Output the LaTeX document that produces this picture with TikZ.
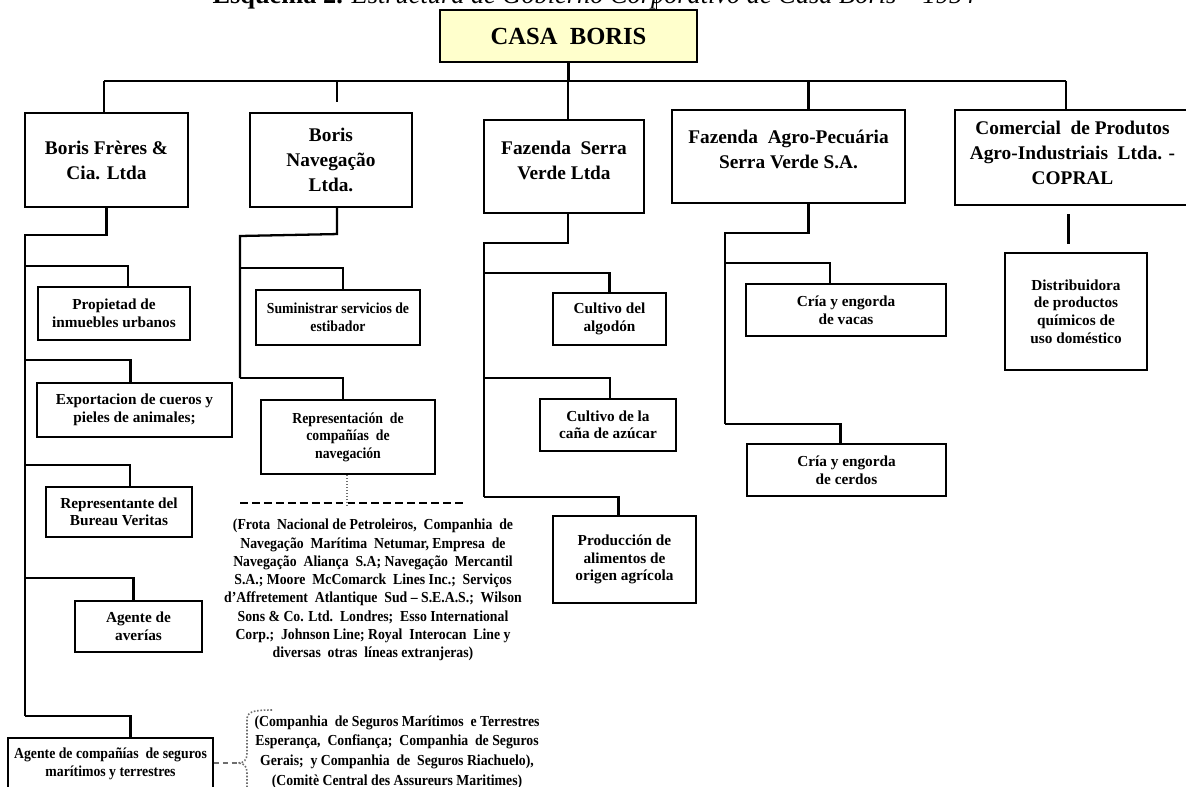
\documentclass[tikz,border=0pt]{standalone}
\usepackage{fontspec}
\setmainfont{Liberation Serif}
\newfontfamily\condfont[FakeStretch=0.9,Ligatures=TeX]{Liberation Serif}
\usetikzlibrary{positioning,calc}
\definecolor{CasaYellow}{RGB}{255,255,204}
\definecolor{BraceGray}{RGB}{110,110,110}

\begin{document}
\begin{tikzpicture}[x=0.02cm,y=-0.02cm,
  every node/.style={align=center, inner sep=0pt},
  box/.style 2 args={draw, line width=1.2pt, minimum width=#1*0.02cm, minimum height=#2*0.02cm},
  lvl/.style={font=\bfseries\fontsize{11}{14.2}\selectfont},
  sub/.style={font=\bfseries\fontsize{8.7}{10}\selectfont},
  subc/.style={font=\condfont\bfseries\fontsize{8.7}{10}\selectfont},
  link/.style={line width=1.3pt}]
  \useasboundingbox (0,0) rectangle (1186,787);
  \clip (0,0) rectangle (1186,787);

  % title, only its lower part shows
  \node[anchor=base, font=\fontsize{15}{18}\selectfont] (title) at (594,3.5)
    {\textbf{Esquema 2.} \textit{Estructura de Gobierno Corporativo de Casa Boris – 1954}};

  % top
  \node[box={257}{52}, fill=CasaYellow, font=\bfseries\fontsize{14}{16}\selectfont] (casa) at (568.5,36) {CASA\ \ BORIS};
  \draw[line width=1pt] ($(casa.north)+(88,0)$) -- ++(0,-12);

  % companies
  \node[box={163}{94}, lvl] (frer) at (106.5,160) {Boris Frères \&\\Cia. Ltda};
  \node[box={162}{94}, lvl] (nav) at (331,160) {Boris\\Navegação\\Ltda.};
  \node[box={160}{93}, lvl] (fsv) at (564,166.5) {Fazenda\ \ Serra\\Verde Ltda\\[-7.4pt]};
  \node[box={233}{93}, lvl] (agro) at (788.5,156.5) {Fazenda\ \ Agro-Pecuária\\Serra Verde S.A.\\[-6.2pt]};
  \node[box={235}{95}, lvl] (copral) at (1072.5,157.5) {Comercial\ \ de Produtos\\Agro-Industriais\ \ Ltda. -\\COPRAL\\[-9.2pt]};

  \coordinate (busL) at (104,81);
  \coordinate (busR) at (1066,81);
  \draw[link, line width=1.6pt] (busL) -- (busR);
  \draw[link] (casa.south) -- (casa.south |- busL);
  \draw[link] (busL) -- (busL |- frer.north);
  \draw[link] ($(nav.north |- busL)+(6,0)$) -- ($(nav.north)+(6,-10)$);
  \draw[link] ($(fsv.north |- busL)+(4,0)$) -- ($(fsv.north)+(4,0)$);
  \draw[link] ($(agro.north |- busL)+(20,0)$) -- ($(agro.north)+(20,0)$);
  \draw[link] (busR) -- (busR |- copral.north);

  % Boris Freres & Cia.
  \node[box={152}{53}, sub] (prop) at (114,313.5) {Propietad de\\inmuebles urbanos};
  \node[box={195}{54}, sub] (expo) at (134.5,410) {Exportacion de cueros y\\pieles de animales;};
  \node[box={146}{50}, sub] (bure) at (119,512) {Representante del\\Bureau Veritas};
  \node[box={127}{51}, sub] (aver) at (138.5,626.5) {Agente de\\averías};
  \node[box={205}{54}, subc] (seg) at (110.5,765) {Agente de compañías\ \ de seguros\\marítimos y terrestres\\[-6.6pt]};

  \coordinate (frerT) at (25,235);
  \coordinate (f1) at (25,266);
  \coordinate (f2) at (25,360);
  \coordinate (f3) at (25,465);
  \coordinate (f4) at (25,578);
  \coordinate (f5) at (25,716);
  \draw[link] (frer.south) |- (frerT) -- (f5);
  \draw[link] (f1) -| ($(prop.north)+(14,0)$);
  \draw[link] (f2) -| ($(expo.north)+(-4,0)$);
  \draw[link] (f3) -| ($(bure.north)+(11,0)$);
  \draw[link] (f4) -| ($(aver.north)+(-5,0)$);
  \draw[link] (f5) -| ($(seg.north)+(20,0)$);

  \node[font=\condfont\bfseries\fontsize{8.7}{11.2}\selectfont] (seglist) at (397,752)
    {(Companhia\ \ de Seguros Marítimos\ \ e Terrestres\\
     Esperança,\ \ Confiança;\ \ Companhia\ \ de Seguros\\
     Gerais;\ \ y Companhia\ \ de\ \ Seguros Riachuelo),\\
     (Comitè Central des Assureurs Maritimes)};
  \coordinate (brtip) at (238,763);
  \draw[BraceGray, densely dashed, line width=0.7pt] (seg.east |- brtip) -- (brtip);
  \draw[BraceGray, densely dotted, line width=0.9pt] (272,710) .. controls (252,710) and (247,712) .. (247,720)
    -- (247,753) .. controls (247,760) and (244,763) .. (brtip)
    .. controls (244,763) and (247,766) .. (247,773) -- (247,790);

  % Boris Navegacao
  \node[box={164}{55}, subc] (sumi) at (338,317.5) {Suministrar servicios de\\estibador};
  \node[box={174}{74}, subc] (repr) at (348,437) {Representación\ \ de\\compañías\ \ de\\navegación};

  \coordinate (navT) at (240,236);
  \coordinate (n1) at (240,268);
  \coordinate (n2) at (240,378);
  \draw[link] ($(nav.south)+(6,0)$) -- ++(0,26) -- (navT) -- (n2);
  \draw[link] (n1) -| ($(sumi.north)+(5,0)$);
  \draw[link] (n2) -| ($(repr.north)+(-5,0)$);

  \coordinate (dashL) at (240,503);
  \coordinate (dashR) at (465,503);
  \draw[line width=1.2pt, dash pattern=on 4.5pt off 2.3pt] (dashL) -- (dashR);
  \draw[BraceGray, densely dotted, line width=0.7pt] ($(repr.south)+(-1,0)$) -- ($(repr.south |- dashR)+(-1,4)$);
  \node[font=\condfont\bfseries\fontsize{8.7}{10.4}\selectfont] (navlist) at (373,590)
    {(Frota\ \ Nacional de Petroleiros,\ \ Companhia\ \ de\\
     Navegação\ \ Marítima\ \ Netumar, Empresa\ \ de\\
     Navegação\ \ Aliança\ \ S.A; Navegação\ \ Mercantil\\
     S.A.; Moore\ \ McComarck\ \ Lines Inc.;\ \ Serviços\\
     d’Affretement\ \ Atlantique\ \ Sud – S.E.A.S.;\ \ Wilson\\
     Sons \& Co. Ltd.\ \ Londres;\ \ Esso International\\
     Corp.;\ \ Johnson Line; Royal\ \ Interocan\ \ Line y\\
     diversas\ \ otras\ \ líneas extranjeras)};

  % Fazenda Serra Verde
  \node[box={113}{52}, sub] (algo) at (609.5,319) {Cultivo del\\algodón};
  \node[box={136}{52}, sub] (cana) at (608,425) {Cultivo de la\\caña de azúcar};
  \node[box={143}{87}, sub] (prod) at (624.5,559.5) {Producción de\\alimentos de\\origen agrícola};

  \coordinate (fsvT) at (484,243);
  \coordinate (s1) at (484,273);
  \coordinate (s2) at (484,378);
  \coordinate (s3) at (484,497);
  \draw[link] ($(fsv.south)+(4,0)$) |- (fsvT) -- (s3);
  \draw[link] (s1) -| (algo.north);
  \draw[link] (s2) -| ($(cana.north)+(2,0)$);
  \draw[link] (s3) -| ($(prod.north)+(-6,0)$);

  % Fazenda Agro-Pecuaria
  \node[box={200}{52}, sub] (vaca) at (846,310) {Cría y engorda\\de vacas};
  \node[box={199}{52}, sub] (cerd) at (846.5,470) {Cría y engorda\\de cerdos};

  \coordinate (agT) at (725,233);
  \coordinate (a1) at (725,263);
  \coordinate (a2) at (725,424);
  \draw[link] ($(agro.south)+(20,0)$) |- (agT) -- (a2);
  \draw[link] (a1) -| ($(vaca.north)+(-16,0)$);
  \draw[link] (a2) -| ($(cerd.north)+(-6,0)$);

  % COPRAL
  \node[box={142}{117}, sub] (dist) at (1076,311.5) {Distribuidora\\de productos\\químicos de\\uso doméstico};
  \draw[link] ($(copral.south)+(-4,8)$) -- ($(copral.south)+(-4,38)$);
\end{tikzpicture}
\end{document}
